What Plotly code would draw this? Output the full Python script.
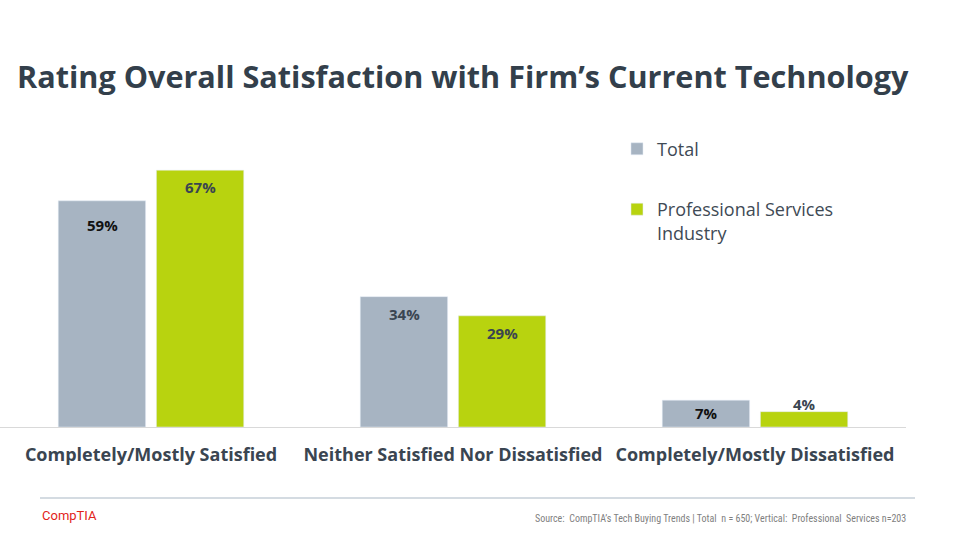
import plotly.graph_objects as go

categories = ["Completely/Mostly Satisfied", "Neither Satisfied Nor Dissatisfied", "Completely/Mostly Dissatisfied"]
total = [59, 34, 7]
prof = [67, 29, 4]
series_names = ["Total", "Professional Services<br>Industry"]

GRAY = "#A7B4C2"
GREEN = "#B8D30F"
DARK = "#3A4551"

fig = go.Figure()
fig.add_trace(go.Bar(name=series_names[0], x=categories, y=total, marker_color=GRAY,
                     legendgroup="a", hoverinfo="skip"))
fig.add_trace(go.Bar(name=series_names[1], x=categories, y=prof, marker_color=GREEN,
                     legendgroup="b", hoverinfo="skip"))

# data labels
for i, c in enumerate(categories):
    fig.add_annotation(x=c, y=total[i], xref="x", yref="y", text=f"<b>{total[i]}%</b>",
                       showarrow=False, xshift=-49, yshift=-24 if i == 0 else (-17 if i == 1 else -13),
                       font=dict(family="Open Sans", size=15, color="#111111" if i != 1 else DARK))
    ys = -17 if prof[i] > 10 else 8
    fig.add_annotation(x=c, y=prof[i], xref="x", yref="y", text=f"<b>{prof[i]}%</b>",
                       showarrow=False, xshift=49, yshift=ys,
                       font=dict(family="Open Sans", size=15, color=DARK))

fig.update_layout(
    width=960, height=540,
    margin=dict(l=0, r=54, t=151, b=113),
    paper_bgcolor="white", plot_bgcolor="white",
    barmode="group", bargap=0.35, bargroupgap=0.11,
    showlegend=True,
    legend=dict(x=0.681, y=1.074, xanchor="left", yanchor="top", valign="top",
                font=dict(family="Open Sans", size=18, color="#404A55"),
                tracegroupgap=34, itemwidth=30, traceorder="grouped",
                bgcolor="rgba(0,0,0,0)"),
    xaxis=dict(showline=True, linecolor="#D9D9D9", linewidth=1, ticks="",
               tickfont=dict(family="Open Sans", size=18, color=DARK, weight="bold"),
               ticklabelstandoff=11,
               showgrid=False, zeroline=False),
    yaxis=dict(range=[0, 72], visible=False, showgrid=False, zeroline=False),
    title=dict(text="Rating Overall Satisfaction with Firm’s Current Technology",
               x=17/960, xanchor="left", y=1-77/540, yanchor="middle",
               font=dict(family="Open Sans", size=30.6, color="#333F4B", weight="bold")),
    font=dict(family="Open Sans"),
)

fig.add_shape(type="line", xref="paper", yref="paper", x0=40/906, x1=915/906,
              y0=-(498-427)/276, y1=-(498-427)/276, line=dict(color="#A9B7C4", width=1))
fig.add_annotation(xref="paper", yref="paper", x=40/906, y=-(515-427)/276, xanchor="left",
                   yanchor="middle", showarrow=False, text="CompTIA",
                   font=dict(family="Roboto", size=13, color="#E2231A"))
fig.add_annotation(xref="paper", yref="paper", x=908/906, y=-(518-427)/276, xanchor="right",
                   yanchor="middle", showarrow=False,
                   text="Source:  CompTIA’s Tech Buying Trends | Total  n = 650; Vertical:  Professional  Services n=203",
                   font=dict(family="Liberation Sans Narrow, Roboto Condensed, Roboto", size=10, color="#7F7F7F"))

fig.write_html("out.html", config={"displayModeBar": False},
               post_script="document.body.style.margin='0';document.body.style.padding='0';")
